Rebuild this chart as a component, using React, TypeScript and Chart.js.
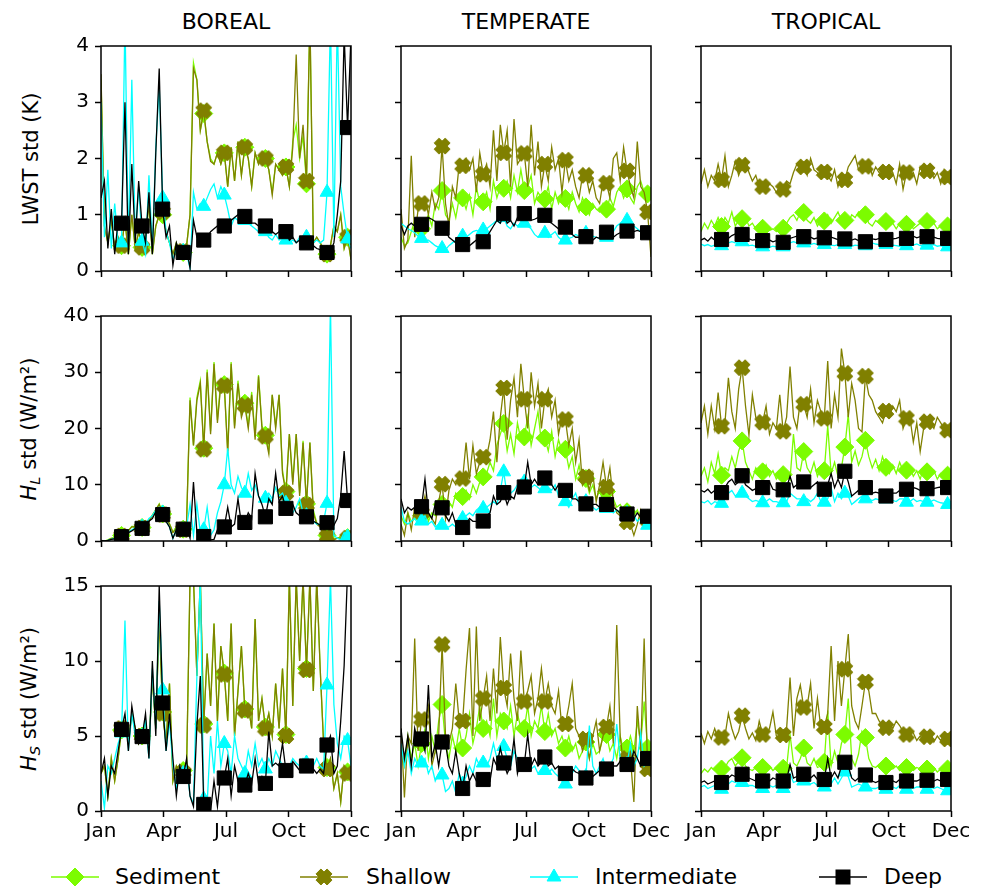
import React, { useEffect, useRef } from "react";
import { Chart, registerables } from "chart.js";

Chart.register(...registerables);

const FONT = "'DejaVu Sans', sans-serif";
const REGIONS = ["BOREAL", "TEMPERATE", "TROPICAL"];
const SERIES = ["Sediment", "Shallow", "Intermediate", "Deep"];
const COLORS = ["#7CFC00", "#808000", "#00FFFF", "#000000"];
const X_TICK_DAYS = [0, 91.25, 182.5, 273.75, 365];
const X_TICK_LABELS = ["Jan", "Apr", "Jul", "Oct", "Dec"];
const Y_MAX = [4, 40, 15];
const Y_STEP = [1, 10, 5];
const DAY_STEP = 5;
const MARK_EVERY = 6;

// ---------- LWST std (K) ----------
const borealLwstSediment = [
  3.4, 0.8, 0.5, 0.9, 0.4, 0.6,
  0.45, 0.9, 0.3, 1.0, 0.4, 0.7,
  0.42, 0.6, 1.2, 0.3, 0.8, 1.0,
  1.0, 0.7, 0.5, 0.3, 0.5, 0.3,
  0.33, 0.45, 1.0, 3.7, 3.4, 2.5,
  2.8, 2.3, 2.0, 1.9, 2.1, 1.9,
  2.1, 1.5, 2.2, 1.6, 2.3, 1.7,
  2.2, 2.0, 1.5, 2.1, 1.9, 2.1,
  2.0, 1.8, 1.4, 1.9, 1.8, 1.7,
  1.85, 1.5, 2.3, 2.6, 2.0, 2.4,
  1.55, 4.5, 0.5, 0.6, 0.5, 0.4,
  0.3, 0.45, 0.8, 0.7, 1.0, 0.4,
  0.6, 0.2,
];
const borealLwstShallow = [
  3.5, 0.8, 0.5, 0.9, 0.4, 0.6,
  0.45, 0.9, 0.3, 1.0, 0.4, 0.7,
  0.42, 0.6, 1.2, 0.3, 0.8, 1.0,
  1.05, 0.7, 0.5, 0.3, 0.5, 0.3,
  0.35, 0.45, 1.0, 3.6, 3.4, 2.5,
  2.85, 2.3, 1.95, 1.9, 2.1, 1.9,
  2.1, 1.5, 2.2, 1.6, 2.3, 1.7,
  2.2, 2.0, 1.5, 2.1, 1.9, 2.1,
  2.0, 1.8, 1.35, 1.9, 1.8, 1.7,
  1.85, 1.5, 2.2, 3.85, 2.0, 2.6,
  1.6, 4.5, 0.5, 0.6, 0.5, 0.4,
  0.3, 0.45, 0.8, 0.7, 1.0, 0.4,
  0.6, 0.2,
];
const borealLwstIntermediate = [
  3.0, 0.6, 1.8, 0.4, 1.2, 0.5,
  0.5, 4.5, 0.4, 3.4, 0.6, 1.5,
  0.53, 0.3, 1.7, 0.4, 2.2, 3.3,
  1.3, 0.7, 0.5, 0.2, 0.4, 0.3,
  0.35, 0.3, 0.05, 1.4, 1.1, 1.2,
  1.15, 1.3, 1.45, 1.55, 1.3, 1.5,
  1.35, 1.1, 0.8, 0.95, 0.9, 0.85,
  0.9, 0.85, 0.8, 0.75, 0.7, 0.65,
  0.7, 0.6, 0.55, 0.65, 0.55, 0.6,
  0.55, 0.5, 0.55, 0.5, 0.6, 0.55,
  0.6, 0.55, 0.5, 0.55, 0.5, 0.55,
  1.4, 4.5, 0.6, 4.5, 1.5, 1.0,
  0.57, 0.4,
];
const borealLwstDeep = [
  1.3, 1.6, 0.4, 1.1, 0.3, 0.9,
  0.85, 3.0, 0.3, 1.9, 0.5, 1.6,
  0.8, 0.5, 1.4, 0.3, 2.1, 3.6,
  1.1, 0.6, 0.8, 0.1, 0.5, 0.3,
  0.33, 0.4, 0.05, 0.9, 0.6, 0.55,
  0.55, 0.6, 0.7, 0.75, 0.8, 0.8,
  0.8, 0.85, 0.9, 0.95, 1.0, 0.9,
  0.97, 0.9, 0.85, 0.85, 0.8, 0.75,
  0.8, 0.75, 0.7, 0.65, 0.7, 0.6,
  0.7, 0.55, 0.6, 0.5, 0.55, 0.5,
  0.5, 0.45, 0.45, 0.4, 0.38, 0.35,
  0.33, 0.35, 0.5, 1.0, 1.6, 4.2,
  2.55, 4.2,
];
const temperateLwstSediment = [
  0.6, 0.45, 0.5, 0.7, 0.9, 0.75,
  0.75, 0.85, 1.0, 0.8, 1.2, 1.1,
  1.43, 1.0, 0.9, 1.2, 0.95, 1.3,
  1.3, 1.1, 1.35, 1.0, 1.5, 1.2,
  1.23, 1.4, 1.1, 1.6, 1.3, 1.5,
  1.47, 1.6, 1.3, 1.7, 1.4, 1.8,
  1.43, 1.5, 1.7, 1.2, 1.4, 1.3,
  1.28, 1.5, 1.1, 1.4, 1.2, 1.35,
  1.29, 1.1, 1.4, 1.2, 1.05, 1.3,
  1.14, 1.0, 1.2, 1.1, 1.05, 1.2,
  1.1, 1.3, 1.15, 1.4, 1.5, 1.3,
  1.46, 1.3, 1.2, 1.5, 1.6, 1.4,
  1.37, 1.3,
];
const temperateLwstShallow = [
  1.1, 0.4, 0.55, 2.05, 0.6, 1.1,
  1.2, 1.3, 1.0, 1.4, 1.1, 1.3,
  2.22, 1.2, 0.8, 1.5, 1.3, 1.9,
  1.87, 2.0, 1.8, 2.0, 1.4, 2.1,
  1.72, 1.9, 1.5, 2.5, 1.6, 2.6,
  2.1, 2.5, 1.5, 2.7, 1.9, 2.0,
  2.09, 1.5, 2.6, 1.7, 2.3, 1.5,
  1.9, 1.6, 2.2, 1.8, 2.0, 1.4,
  1.97, 1.6, 1.8, 1.5, 1.3, 1.7,
  1.7, 1.4, 1.6, 1.3, 1.2, 1.6,
  1.56, 1.3, 2.0, 2.1, 1.6, 2.2,
  1.78, 1.5, 1.3, 2.3, 1.5, 1.4,
  1.05, 0.25,
];
const temperateLwstIntermediate = [
  0.85, 0.8, 0.75, 0.72, 0.68, 0.62,
  0.58, 0.55, 0.55, 0.5, 0.45, 0.42,
  0.4, 0.38, 0.45, 0.5, 0.55, 0.6,
  0.62, 0.6, 0.65, 0.7, 0.72, 0.7,
  0.73, 0.75, 0.8, 0.85, 0.9, 0.85,
  0.95, 0.8, 0.75, 0.85, 0.8, 0.85,
  0.85, 0.8, 0.75, 0.65, 0.6, 0.65,
  0.67, 0.6, 0.65, 0.7, 0.6, 0.55,
  0.55, 0.58, 0.6, 0.65, 0.62, 0.65,
  0.67, 0.6, 0.62, 0.6, 0.58, 0.62,
  0.6, 0.65, 0.7, 0.8, 0.85, 0.9,
  0.9, 0.85, 0.8, 0.75, 0.7, 0.68,
  0.67, 0.65,
];
const temperateLwstDeep = [
  0.8, 0.65, 0.8, 0.85, 0.8, 0.82,
  0.83, 0.9, 0.95, 0.92, 0.88, 0.8,
  0.76, 0.72, 0.6, 0.55, 0.5, 0.48,
  0.47, 0.5, 0.45, 0.5, 0.55, 0.5,
  0.52, 0.6, 0.7, 0.8, 0.9, 0.85,
  1.02, 0.85, 0.9, 0.8, 0.95, 1.0,
  1.02, 0.95, 0.9, 0.92, 0.95, 0.9,
  0.99, 0.88, 0.85, 0.8, 0.75, 0.8,
  0.78, 0.7, 0.65, 0.6, 0.6, 0.58,
  0.61, 0.6, 0.55, 0.6, 0.58, 0.65,
  0.69, 0.62, 0.6, 0.65, 0.68, 0.72,
  0.71, 0.7, 0.7, 0.72, 0.7, 0.7,
  0.68, 0.68,
];
const tropicalLwstSediment = [
  0.7, 0.85, 0.75, 0.9, 0.8, 0.95,
  0.79, 0.95, 0.85, 1.05, 0.8, 0.9,
  0.93, 0.95, 0.8, 0.85, 0.75, 0.7,
  0.76, 0.8, 0.72, 0.75, 0.7, 0.8,
  0.76, 0.85, 0.95, 1.0, 0.9, 1.05,
  1.04, 0.9, 0.85, 0.95, 0.8, 0.9,
  0.89, 1.0, 0.85, 0.95, 1.05, 0.9,
  0.9, 0.85, 1.0, 0.95, 1.05, 0.95,
  1.0, 0.85, 0.8, 0.9, 0.85, 0.8,
  0.88, 0.8, 0.85, 0.75, 0.85, 0.8,
  0.83, 0.85, 0.75, 0.8, 0.85, 0.8,
  0.88, 0.8, 0.85, 0.75, 0.8, 0.85,
  0.8, 0.82,
];
const tropicalLwstShallow = [
  1.55, 1.8, 1.5, 1.7, 1.6, 1.9,
  1.62, 2.05, 1.5, 1.7, 1.95, 1.7,
  1.88, 2.0, 1.75, 1.6, 1.7, 1.5,
  1.5, 1.45, 1.55, 1.5, 1.4, 1.5,
  1.45, 1.6, 1.55, 1.75, 1.9, 1.8,
  1.85, 1.7, 2.0, 1.8, 1.75, 1.65,
  1.76, 1.7, 1.6, 1.8, 1.5, 1.7,
  1.62, 1.85, 1.95, 2.05, 1.8, 1.9,
  1.86, 1.95, 1.7, 1.85, 1.75, 1.8,
  1.76, 1.85, 1.75, 1.55, 1.9, 1.45,
  1.75, 1.7, 1.75, 1.55, 1.85, 1.7,
  1.78, 1.8, 1.65, 1.75, 1.55, 1.8,
  1.67, 1.7,
];
const tropicalLwstIntermediate = [
  0.48, 0.45, 0.47, 0.44, 0.46, 0.45,
  0.45, 0.47, 0.5, 0.52, 0.5, 0.5,
  0.52, 0.48, 0.45, 0.46, 0.44, 0.45,
  0.43, 0.44, 0.42, 0.44, 0.43, 0.45,
  0.43, 0.46, 0.5, 0.52, 0.5, 0.5,
  0.5, 0.48, 0.47, 0.49, 0.47, 0.46,
  0.47, 0.48, 0.46, 0.45, 0.47, 0.46,
  0.47, 0.45, 0.44, 0.46, 0.45, 0.44,
  0.45, 0.46, 0.5, 0.48, 0.47, 0.46,
  0.47, 0.45, 0.46, 0.45, 0.44, 0.46,
  0.45, 0.47, 0.46, 0.48, 0.45, 0.46,
  0.46, 0.45, 0.47, 0.44, 0.45, 0.43,
  0.43, 0.44,
];
const tropicalLwstDeep = [
  0.55, 0.58, 0.53, 0.6, 0.55, 0.57,
  0.56, 0.6, 0.58, 0.63, 0.66, 0.62,
  0.65, 0.6, 0.57, 0.55, 0.56, 0.54,
  0.54, 0.53, 0.55, 0.52, 0.54, 0.5,
  0.51, 0.55, 0.58, 0.6, 0.62, 0.6,
  0.61, 0.58, 0.6, 0.57, 0.59, 0.6,
  0.59, 0.57, 0.6, 0.58, 0.56, 0.58,
  0.57, 0.58, 0.55, 0.57, 0.54, 0.55,
  0.52, 0.55, 0.57, 0.56, 0.58, 0.55,
  0.56, 0.55, 0.57, 0.58, 0.6, 0.57,
  0.58, 0.6, 0.62, 0.59, 0.61, 0.6,
  0.61, 0.59, 0.6, 0.58, 0.57, 0.59,
  0.58, 0.57,
];

// ---------- H_L std (W/m2) ----------
const borealHlSediment = [
  0.0, 0.0, 0.2, 0.5, 0.6, 0.9,
  1.0, 1.4, 1.9, 2.6, 2.6, 2.9,
  2.4, 3.1, 3.6, 4.6, 5.6, 6.6,
  4.8, 4.1, 3.1, 1.6, 2.3, 3.1,
  2.1, 3.6, 25.5, 17.0, 25.5, 28.5,
  16.5, 30.5, 19.5, 31.8, 21.5, 28.5,
  27.8, 16.0, 31.8, 20.5, 28.5, 22.5,
  24.5, 20.5, 26.5, 18.5, 29.5, 20.5,
  18.8, 16.0, 26.0, 20.5, 26.0, 12.5,
  8.8, 19.0, 10.5, 19.0, 8.5, 17.8,
  6.6, 17.5, 5.5, 3.2, 2.7, 1.2,
  1.0, 0.4, 0.3, 0.6, 0.6, 0.6,
  0.6, 1.6,
];
const borealHlShallow = [
  0.0, 0.0, 0.1, 0.4, 0.5, 0.8,
  0.9, 1.3, 1.8, 2.5, 2.5, 2.8,
  2.3, 3.0, 3.5, 4.5, 5.5, 6.5,
  4.7, 4.0, 3.0, 1.5, 2.2, 3.0,
  2.0, 3.5, 25.0, 17.0, 25.0, 28.0,
  16.3, 30.0, 19.0, 31.5, 21.0, 28.0,
  27.6, 15.5, 31.5, 20.0, 28.0, 22.0,
  24.1, 20.0, 26.0, 18.0, 29.3, 20.0,
  18.6, 15.5, 26.0, 20.0, 26.0, 12.0,
  8.5, 19.0, 10.0, 19.0, 8.0, 17.5,
  6.4, 17.5, 5.0, 3.0, 2.5, 1.0,
  0.8, 0.3, 0.2, 0.5, 0.5, 0.5,
  0.5, 1.5,
];
const borealHlIntermediate = [
  0.0, 0.0, 0.1, 0.3, 0.5, 0.6,
  0.7, 1.0, 1.5, 2.0, 2.3, 2.6,
  2.5, 3.0, 4.0, 4.5, 5.5, 6.0,
  5.0, 3.5, 2.5, 0.5, 2.0, 2.5,
  2.0, 2.5, 6.5, 1.0, 6.5, 1.5,
  2.0, 6.0, 1.0, 2.0, 5.0, 7.0,
  10.0, 16.5, 10.0, 8.5, 11.5, 9.5,
  8.5, 12.0, 9.0, 10.0, 8.0, 7.0,
  7.6, 8.5, 7.5, 9.5, 8.0, 8.5,
  6.7, 6.0, 5.0, 6.0, 7.5, 5.0,
  4.5, 4.0, 3.5, 3.0, 3.0, 3.5,
  6.7, 42.0, 1.0, 0.5, 0.2, 1.5,
  0.7, 0.3,
];
const borealHlDeep = [
  0.1, 0.0, 0.1, 0.3, 0.4, 0.6,
  0.77, 1.2, 1.5, 1.8, 2.2, 2.5,
  2.25, 3.0, 3.5, 4.0, 5.2, 4.5,
  4.7, 3.5, 2.5, 0.5, 2.0, 2.3,
  2.1, 2.5, 0.5, 10.5, 1.5, 1.2,
  0.8, 0.5, 0.2, 0.3, 2.0, 3.0,
  2.5, 6.0, 2.5, 3.0, 7.5, 3.0,
  3.3, 5.0, 4.0, 12.0, 8.0, 6.5,
  4.3, 7.5, 6.5, 12.0, 7.0, 8.0,
  5.8, 5.5, 6.5, 5.0, 4.5, 5.5,
  4.3, 4.0, 3.5, 3.2, 2.8, 3.0,
  3.25, 3.0, 2.8, 4.0, 8.0, 16.0,
  7.2, 7.0,
];
const temperateHlSediment = [
  4.5, 3.0, 5.0, 3.5, 4.0, 5.5,
  4.5, 6.0, 3.5, 5.0, 4.5, 6.0,
  6.5, 5.0, 7.0, 6.0, 8.5, 7.5,
  7.9, 9.0, 7.5, 10.0, 8.5, 10.5,
  11.4, 12.0, 14.0, 12.5, 17.0, 19.0,
  20.9, 16.0, 19.0, 15.5, 21.0, 18.0,
  18.5, 22.0, 17.0, 20.0, 23.0, 17.5,
  18.3, 16.0, 19.5, 15.0, 18.0, 16.0,
  16.3, 13.0, 15.0, 11.0, 13.5, 10.0,
  11.1, 8.5, 10.0, 7.5, 9.0, 7.0,
  8.8, 6.5, 7.5, 6.0, 6.5, 5.5,
  5.2, 6.0, 4.5, 5.5, 4.0, 5.0,
  4.0, 3.5,
];
const temperateHlShallow = [
  3.0, 1.0, 5.0, 2.0, 6.0, 4.0,
  5.0, 8.0, 5.0, 4.0, 3.0, 7.0,
  10.1, 4.0, 9.0, 11.0, 10.0, 12.0,
  11.1, 17.5, 11.0, 17.0, 12.0, 14.0,
  14.9, 15.0, 18.0, 23.0, 14.0, 22.0,
  27.2, 18.0, 25.0, 29.0, 22.0, 31.5,
  25.2, 20.0, 30.0, 24.0, 28.0, 20.0,
  25.2, 27.0, 22.0, 25.0, 19.0, 22.0,
  21.6, 17.0, 20.0, 14.0, 18.0, 10.0,
  11.4, 9.0, 12.0, 7.0, 10.0, 14.0,
  9.6, 13.0, 7.0, 5.0, 4.5, 3.5,
  3.4, 3.0, 1.0, 3.0, 5.5, 3.5,
  3.7, 3.0,
];
const temperateHlIntermediate = [
  6.0, 3.5, 3.0, 3.5, 4.0, 3.0,
  3.55, 4.5, 3.0, 3.5, 2.5, 3.0,
  2.8, 2.5, 2.5, 3.0, 2.5, 3.5,
  4.0, 4.5, 5.0, 4.5, 5.5, 6.0,
  5.8, 6.0, 6.5, 7.0, 6.5, 9.0,
  12.3, 8.0, 8.5, 9.0, 10.0, 11.0,
  10.5, 10.5, 9.5, 10.0, 9.5, 9.0,
  9.3, 9.5, 9.0, 10.0, 8.0, 8.0,
  7.0, 6.0, 7.5, 8.5, 6.5, 7.0,
  7.0, 6.5, 6.0, 5.5, 6.0, 5.5,
  5.8, 5.5, 5.0, 5.5, 5.0, 4.5,
  4.9, 5.0, 4.5, 3.5, 4.0, 3.0,
  2.8, 2.5,
];
const temperateHlDeep = [
  7.5, 5.0, 6.0, 5.5, 6.0, 5.0,
  6.1, 11.0, 5.0, 4.0, 6.5, 5.0,
  5.9, 4.5, 3.5, 5.0, 3.0, 2.5,
  2.4, 3.0, 4.0, 3.5, 3.5, 4.0,
  3.55, 4.5, 5.0, 8.0, 6.5, 7.0,
  8.6, 6.5, 8.0, 7.5, 9.5, 10.5,
  9.6, 14.0, 10.0, 11.0, 10.0, 10.5,
  11.2, 10.5, 10.0, 9.0, 10.0, 9.5,
  9.0, 8.5, 7.5, 7.5, 7.0, 7.0,
  6.6, 6.0, 6.5, 6.5, 6.0, 6.5,
  6.5, 6.3, 6.0, 5.5, 5.0, 4.8,
  4.8, 5.0, 4.0, 5.0, 4.2, 4.5,
  4.4, 4.5,
];
const tropicalHlSediment = [
  11.5, 13.0, 10.5, 14.0, 12.0, 15.5,
  11.7, 13.0, 12.5, 15.0, 13.0, 16.0,
  17.8, 14.0, 12.5, 11.0, 13.0, 12.0,
  12.3, 13.5, 11.5, 12.5, 11.0, 12.0,
  11.8, 12.5, 11.0, 19.0, 13.0, 12.5,
  15.9, 13.0, 12.0, 14.0, 11.5, 13.0,
  12.5, 20.5, 12.0, 14.0, 11.5, 13.0,
  16.7, 22.5, 14.0, 16.0, 13.5, 15.0,
  17.9, 15.0, 13.0, 14.5, 12.5, 15.0,
  13.1, 12.0, 13.5, 12.0, 14.0, 12.5,
  12.6, 13.0, 11.5, 12.5, 11.0, 13.0,
  12.3, 11.5, 12.5, 11.0, 12.0, 11.5,
  11.7, 11.5,
];
const tropicalHlShallow = [
  21.0, 24.0, 19.0, 24.0, 20.0, 26.4,
  20.4, 21.0, 29.0, 23.0, 20.0, 27.0,
  30.8, 24.0, 18.8, 26.0, 22.0, 20.0,
  21.1, 24.0, 19.0, 21.0, 20.0, 26.0,
  19.5, 22.0, 31.0, 22.0, 20.0, 25.0,
  24.3, 22.0, 27.0, 21.0, 25.0, 23.0,
  21.8, 32.0, 20.0, 26.0, 22.0, 34.2,
  29.8, 22.0, 28.0, 25.0, 20.0, 19.4,
  29.3, 26.0, 25.0, 23.0, 22.0, 21.0,
  23.1, 22.0, 24.0, 23.0, 25.0, 20.0,
  21.8, 22.0, 17.6, 21.0, 15.9, 20.0,
  21.2, 21.0, 20.0, 22.0, 21.0, 20.0,
  19.7, 19.0,
];
const tropicalHlIntermediate = [
  7.0, 6.8, 7.2, 6.5, 7.0, 6.8,
  6.7, 7.5, 8.5, 9.0, 8.0, 8.5,
  8.5, 8.0, 7.5, 7.0, 7.2, 7.0,
  6.8, 7.0, 7.5, 7.0, 7.0, 6.8,
  6.8, 7.0, 8.5, 8.0, 7.5, 7.5,
  7.0, 7.5, 7.0, 7.5, 8.5, 7.0,
  6.9, 7.5, 9.5, 7.0, 8.5, 7.5,
  8.5, 8.0, 6.5, 7.0, 7.5, 8.0,
  7.5, 7.5, 7.2, 7.5, 7.3, 7.0,
  7.5, 7.0, 7.2, 7.0, 7.5, 7.5,
  6.9, 7.0, 7.5, 7.0, 7.2, 7.0,
  6.9, 7.0, 7.3, 7.0, 6.8, 6.7,
  6.5, 6.5,
];
const tropicalHlDeep = [
  9.0, 8.7, 9.2, 8.5, 9.0, 8.8,
  8.6, 9.5, 10.5, 11.0, 10.0, 10.5,
  11.6, 10.0, 9.5, 9.0, 9.3, 9.5,
  9.5, 10.0, 10.5, 9.2, 9.0, 8.8,
  9.1, 9.5, 11.5, 9.5, 10.0, 10.0,
  10.5, 10.0, 9.5, 10.0, 10.5, 9.0,
  9.2, 10.0, 12.0, 9.5, 11.0, 9.5,
  12.4, 10.5, 8.0, 8.5, 9.0, 9.5,
  9.5, 9.0, 8.5, 8.7, 8.5, 8.0,
  8.0, 8.3, 8.5, 8.5, 9.0, 9.0,
  9.2, 9.0, 9.5, 9.3, 9.0, 9.5,
  9.3, 9.5, 9.3, 9.5, 9.6, 9.5,
  9.5, 9.5,
];

// ---------- H_S std (W/m2) ----------
const borealHsSediment = [
  2.5, 3.0, 1.0, 3.5, 2.0, 3.5,
  5.4, 6.0, 4.5, 6.5, 5.5, 4.5,
  5.0, 6.0, 4.0, 9.0, 5.5, 13.0,
  6.6, 4.5, 8.5, 2.0, 3.0, 2.5,
  2.7, 3.0, 15.5, 15.5, 9.0, 15.5,
  5.8, 10.5, 7.0, 12.5, 6.0, 11.0,
  9.2, 6.0, 12.5, 5.0, 8.0, 11.0,
  6.8, 7.0, 5.5, 12.8, 6.0, 7.5,
  5.6, 6.5, 5.0, 8.5, 5.5, 9.5,
  5.1, 15.5, 7.0, 15.5, 10.0, 15.5,
  9.5, 15.5, 8.0, 15.5, 9.5, 4.5,
  2.9, 3.5, 1.5, 2.5, 0.6, 3.0,
  2.6, 2.0,
];
const borealHsShallow = [
  2.5, 3.0, 1.0, 3.5, 2.0, 3.5,
  5.5, 6.0, 4.5, 6.5, 5.5, 4.5,
  5.0, 6.0, 4.0, 9.0, 5.5, 13.0,
  6.5, 4.5, 8.5, 2.0, 3.0, 2.5,
  2.6, 3.0, 15.5, 15.5, 9.0, 15.5,
  5.7, 10.5, 7.0, 12.5, 6.0, 11.0,
  9.1, 6.0, 12.5, 5.0, 8.0, 11.0,
  6.7, 7.0, 5.5, 12.8, 6.0, 7.5,
  5.5, 6.5, 5.0, 8.5, 5.5, 9.5,
  5.0, 15.5, 7.0, 15.5, 10.0, 15.5,
  9.4, 15.5, 8.0, 15.5, 9.5, 4.5,
  2.8, 3.5, 1.5, 2.5, 0.6, 3.0,
  2.5, 2.0,
];
const borealHsIntermediate = [
  2.0, 0.2, 3.0, 2.5, 3.5, 4.5,
  5.2, 12.7, 4.0, 6.5, 5.0, 5.0,
  5.0, 6.0, 3.5, 9.5, 5.5, 14.0,
  8.07, 4.0, 6.0, 3.0, 1.5, 3.0,
  2.5, 3.0, 1.0, 0.5, 9.0, 15.5,
  0.8, 0.5, 5.0, 2.5, 6.0, 3.0,
  4.5, 4.0, 2.5, 5.0, 3.5, 3.0,
  2.5, 4.0, 3.0, 4.5, 3.0, 3.5,
  2.8, 3.5, 3.0, 4.0, 3.5, 3.0,
  2.6, 3.0, 3.5, 3.2, 3.0, 3.5,
  3.2, 3.3, 3.0, 3.5, 3.0, 2.8,
  8.4, 15.5, 7.1, 4.5, 3.5, 5.0,
  4.7, 3.0,
];
const borealHsDeep = [
  2.5, 3.5, 1.0, 3.0, 2.5, 4.0,
  5.44, 6.5, 4.0, 7.0, 5.5, 4.5,
  4.96, 6.5, 3.5, 10.0, 5.0, 15.0,
  7.2, 4.0, 6.5, 3.5, 1.0, 3.0,
  2.3, 3.5, 1.0, 0.3, 5.7, 9.0,
  0.44, 0.5, 0.0, 2.0, 0.3, 2.5,
  2.2, 3.5, 1.0, 3.0, 2.0, 1.5,
  1.73, 2.5, 1.8, 3.5, 1.8, 2.3,
  1.84, 5.3, 3.0, 3.2, 3.0, 4.5,
  2.7, 2.8, 3.3, 3.0, 2.7, 2.8,
  3.0, 3.0, 2.8, 2.5, 2.8, 2.5,
  4.4, 5.0, 2.5, 3.0, 6.0, 9.7,
  16.0, 17.0,
];
const temperateHsSediment = [
  4.0, 3.0, 5.0, 3.5, 4.5, 3.0,
  4.5, 5.5, 3.5, 5.0, 4.0, 6.0,
  7.1, 4.5, 3.5, 5.0, 4.0, 5.5,
  4.2, 5.0, 6.5, 4.5, 5.5, 7.0,
  5.5, 6.0, 5.0, 7.5, 5.0, 6.5,
  6.0, 5.5, 7.0, 5.0, 6.5, 5.5,
  5.5, 7.0, 5.0, 6.0, 5.5, 7.0,
  5.3, 6.5, 5.0, 5.5, 4.5, 5.0,
  4.2, 5.0, 4.0, 4.5, 3.5, 4.0,
  4.6, 3.5, 4.5, 3.8, 4.0, 5.0,
  5.1, 4.0, 4.5, 3.5, 5.0, 4.0,
  4.2, 5.0, 4.0, 6.0, 4.5, 7.3,
  4.2, 4.0,
];
const temperateHsShallow = [
  5.5, 0.9, 5.0, 4.5, 11.5, 4.0,
  6.1, 6.0, 7.0, 3.0, 4.0, 5.0,
  11.1, 5.0, 4.5, 5.5, 8.5, 6.0,
  6.0, 9.4, 12.2, 5.0, 12.3, 6.0,
  7.5, 9.0, 6.0, 9.5, 6.5, 11.6,
  8.2, 7.0, 10.5, 7.5, 6.0, 10.7,
  7.3, 8.0, 9.0, 6.5, 7.5, 9.5,
  7.3, 8.5, 7.0, 6.5, 8.0, 5.5,
  5.8, 7.0, 8.5, 5.5, 5.0, 4.0,
  4.8, 3.5, 5.0, 6.0, 4.0, 5.0,
  5.6, 7.0, 4.5, 12.4, 5.0, 3.0,
  3.5, 3.5, 0.6, 7.0, 4.0, 11.5,
  2.8, 2.5,
];
const temperateHsIntermediate = [
  4.5, 3.0, 4.0, 2.5, 3.5, 3.0,
  3.2, 3.5, 2.5, 3.0, 2.0, 2.5,
  2.4, 1.3, 1.5, 2.0, 1.2, 2.5,
  1.8, 2.3, 3.0, 2.5, 3.5, 3.0,
  3.2, 3.0, 3.5, 4.5, 3.5, 4.0,
  4.3, 3.5, 3.0, 4.0, 3.5, 3.0,
  3.0, 3.5, 2.8, 3.0, 2.5, 2.8,
  2.7, 2.5, 2.8, 2.5, 2.3, 2.0,
  1.8, 2.0, 2.5, 3.0, 2.7, 2.5,
  2.3, 5.7, 3.0, 2.5, 3.0, 3.5,
  2.7, 3.0, 3.5, 5.8, 3.5, 3.0,
  3.1, 4.5, 3.0, 3.5, 5.2, 3.0,
  3.3, 3.0,
];
const temperateHsDeep = [
  5.5, 3.5, 5.0, 3.0, 5.5, 4.5,
  4.8, 4.0, 8.4, 3.5, 4.5, 3.0,
  4.6, 4.5, 3.0, 2.5, 4.0, 2.5,
  1.5, 3.0, 2.0, 2.5, 2.0, 2.2,
  2.1, 2.3, 2.0, 3.5, 3.0, 4.2,
  3.2, 2.5, 3.0, 4.8, 2.5, 3.5,
  3.1, 5.1, 3.0, 3.5, 3.0, 3.3,
  3.6, 3.0, 3.2, 2.8, 3.0, 2.5,
  2.5, 2.5, 2.8, 2.6, 2.5, 2.2,
  2.2, 2.0, 2.3, 2.5, 2.7, 2.8,
  2.8, 2.9, 3.0, 3.0, 3.3, 3.0,
  3.1, 3.2, 4.0, 3.5, 3.0, 3.8,
  3.5, 3.5,
];
const tropicalHsSediment = [
  2.5, 2.8, 2.6, 2.9, 2.7, 2.8,
  2.8, 2.9, 3.3, 3.5, 3.0, 3.3,
  3.55, 3.0, 2.8, 2.7, 2.9, 2.8,
  2.9, 2.8, 3.0, 2.7, 2.9, 2.8,
  2.85, 2.9, 5.1, 3.2, 3.0, 3.5,
  4.2, 3.2, 3.0, 3.5, 2.9, 3.0,
  3.25, 6.7, 3.0, 4.0, 3.2, 4.5,
  5.1, 7.5, 3.5, 3.0, 3.8, 5.3,
  4.9, 3.5, 3.0, 2.9, 3.1, 2.8,
  3.0, 2.9, 2.8, 3.0, 2.7, 2.9,
  2.9, 2.8, 2.7, 2.9, 2.8, 2.7,
  2.8, 2.7, 2.9, 2.6, 2.8, 2.7,
  2.8, 2.7,
];
const tropicalHsShallow = [
  5.2, 4.5, 5.3, 4.8, 5.5, 4.8,
  4.9, 5.0, 6.5, 5.5, 4.8, 5.3,
  6.35, 5.5, 4.8, 5.2, 4.7, 6.0,
  5.1, 5.0, 5.5, 6.6, 5.0, 4.8,
  5.07, 5.5, 8.9, 5.0, 7.5, 8.4,
  6.9, 7.0, 8.5, 5.5, 7.5, 5.5,
  5.6, 6.5, 11.0, 6.0, 10.0, 7.0,
  9.45, 11.8, 7.0, 6.0, 5.5, 7.0,
  8.6, 8.0, 6.5, 6.5, 6.0, 5.7,
  5.55, 5.8, 5.5, 6.0, 5.7, 5.3,
  5.1, 5.5, 5.2, 4.7, 5.0, 4.6,
  4.95, 5.2, 4.6, 5.0, 4.7, 5.1,
  4.8, 4.6,
];
const tropicalHsIntermediate = [
  1.6, 1.7, 1.5, 1.6, 1.7, 1.6,
  1.45, 1.6, 1.8, 2.0, 1.9, 2.0,
  1.9, 1.8, 1.7, 1.7, 1.6, 1.6,
  1.5, 1.6, 1.7, 1.6, 1.7, 1.6,
  1.5, 1.7, 2.5, 1.9, 2.0, 2.0,
  2.0, 1.9, 1.8, 1.9, 1.7, 1.6,
  1.6, 2.5, 1.8, 2.2, 1.8, 2.2,
  2.6, 2.3, 1.6, 1.7, 1.8, 1.7,
  1.6, 1.6, 1.5, 1.5, 1.6, 1.5,
  1.45, 1.6, 1.6, 1.5, 1.7, 1.6,
  1.45, 1.6, 1.5, 1.6, 1.6, 1.5,
  1.45, 1.6, 1.5, 1.6, 1.5, 1.4,
  1.35, 1.4,
];
const tropicalHsDeep = [
  1.9, 2.0, 1.8, 1.9, 2.0, 1.9,
  1.9, 2.0, 2.2, 2.4, 2.3, 2.5,
  2.45, 2.3, 2.2, 2.1, 2.0, 2.1,
  2.0, 2.1, 2.0, 2.2, 2.1, 2.0,
  2.0, 2.1, 3.1, 2.2, 2.3, 2.4,
  2.45, 2.3, 2.2, 2.4, 2.1, 2.0,
  2.1, 3.5, 2.2, 2.6, 2.2, 3.0,
  3.25, 3.0, 2.2, 2.0, 2.2, 2.3,
  2.4, 2.2, 2.0, 1.9, 2.0, 1.9,
  1.9, 2.0, 2.0, 1.9, 2.1, 2.0,
  2.0, 2.1, 2.0, 2.0, 2.1, 2.0,
  2.05, 2.1, 2.0, 2.1, 2.0, 2.1,
  2.1, 2.1,
];

const PANELS: number[][][][] = [
  [
    [borealLwstSediment, borealLwstShallow, borealLwstIntermediate, borealLwstDeep],
    [temperateLwstSediment, temperateLwstShallow, temperateLwstIntermediate, temperateLwstDeep],
    [tropicalLwstSediment, tropicalLwstShallow, tropicalLwstIntermediate, tropicalLwstDeep],
  ],
  [
    [borealHlSediment, borealHlShallow, borealHlIntermediate, borealHlDeep],
    [temperateHlSediment, temperateHlShallow, temperateHlIntermediate, temperateHlDeep],
    [tropicalHlSediment, tropicalHlShallow, tropicalHlIntermediate, tropicalHlDeep],
  ],
  [
    [borealHsSediment, borealHsShallow, borealHsIntermediate, borealHsDeep],
    [temperateHsSediment, temperateHsShallow, temperateHsIntermediate, temperateHsDeep],
    [tropicalHsSediment, tropicalHsShallow, tropicalHsIntermediate, tropicalHsDeep],
  ],
];

// ---------- layout ----------
const PLOT_LEFT = [101, 401, 701];
const PLOT_TOP = [46, 316, 586];
const PLOT_W = 250;
const PLOT_H = 225;
const PAD_L = 70;
const PAD_T = 14;
const PAD_R = 25;
const PAD_B = 40;
const TICK_FONT = 20;
const YLABEL_FONT = 21;
const TITLE_FONT = 22;
const LEGEND_FONT = 22;
const X_HALF = 8;
const MARKER_RADIUS = [9, 8, 8, 10];
const POINT_STYLES = ["rectRot", "cross", "triangle", "rect"];

// Filled "X" marker: a fat plus sign rotated by 45 degrees
function xMarkerPoints(half: number, cx: number, cy: number): [number, number][] {
  const a = 1.15; // arm half-width
  const b = 2.6; // arm half-length
  const base = [
    [-a, -b], [a, -b], [a, -a], [b, -a], [b, a], [a, a],
    [a, b], [-a, b], [-a, a], [-b, a], [-b, -a], [-a, -a],
  ];
  const u = half / ((a + b) / Math.SQRT2);
  return base.map(([x, y]) => [cx + ((x - y) / Math.SQRT2) * u, cy + ((x + y) / Math.SQRT2) * u]);
}

function makeXCanvas(color: string): HTMLCanvasElement {
  const size = Math.ceil(X_HALF * 2 + 2);
  const c = document.createElement("canvas");
  c.width = size;
  c.height = size;
  const ctx = c.getContext("2d")!;
  const pts = xMarkerPoints(X_HALF, size / 2, size / 2);
  ctx.beginPath();
  pts.forEach(([x, y], i) => (i === 0 ? ctx.moveTo(x, y) : ctx.lineTo(x, y)));
  ctx.closePath();
  ctx.fillStyle = color;
  ctx.fill();
  ctx.strokeStyle = color;
  ctx.lineWidth = 1;
  ctx.stroke();
  return c;
}

const spinePlugin = {
  id: "spines",
  afterDraw(chart: any) {
    const { ctx, chartArea } = chart;
    ctx.save();
    ctx.strokeStyle = "#000";
    ctx.lineWidth = 1.5;
    ctx.strokeRect(chartArea.left, chartArea.top, chartArea.right - chartArea.left, chartArea.bottom - chartArea.top);
    ctx.restore();
  },
};

function buildConfig(r: number, c: number, xCanvas: HTMLCanvasElement): any {
  const series = PANELS[r][c];
  const datasets = series.map((vals, s) => ({
    label: SERIES[s],
    data: vals.map((v, i) => ({ x: i * DAY_STEP, y: v })),
    borderColor: COLORS[s],
    backgroundColor: COLORS[s],
    borderWidth: 1.3,
    pointStyle: s === 1 ? xCanvas : POINT_STYLES[s],
    pointRadius: (ctx: any) => (ctx.dataIndex > 0 && ctx.dataIndex % MARK_EVERY === 0 ? MARKER_RADIUS[s] : 0),
    pointHoverRadius: 0,
    pointBorderWidth: 1,
    pointBorderColor: COLORS[s],
    pointBackgroundColor: COLORS[s],
    order: 3 - s,
    tension: 0,
  }));
  const grid = {
    display: true,
    drawOnChartArea: false,
    drawTicks: true,
    tickLength: 6,
    tickWidth: 1.5,
    tickColor: "#000",
    color: "#000",
  };
  const font = { family: FONT, size: TICK_FONT };
  return {
    type: "line",
    data: { datasets },
    options: {
      animation: false,
      responsive: false,
      devicePixelRatio: 1,
      events: [],
      layout: { padding: { left: PAD_L - 60, top: PAD_T, right: PAD_R, bottom: 0 } },
      plugins: { legend: { display: false }, tooltip: { enabled: false } },
      scales: {
        x: {
          type: "linear",
          min: 0,
          max: 365,
          afterBuildTicks: (scale: any) => {
            scale.ticks = X_TICK_DAYS.map((v) => ({ value: v }));
          },
          afterFit: (scale: any) => {
            scale.height = PAD_B;
            scale.paddingLeft = 0;
            scale.paddingRight = 0;
          },
          grid,
          border: { display: false },
          ticks: {
            autoSkip: false,
            maxRotation: 0,
            minRotation: 0,
            padding: 3,
            color: "#000",
            font,
            callback: (_v: any, i: number) => (r === 2 ? X_TICK_LABELS[i] : ""),
          },
        },
        y: {
          type: "linear",
          min: 0,
          max: Y_MAX[r],
          afterFit: (scale: any) => {
            scale.width = 60;
            scale.paddingTop = 0;
            scale.paddingBottom = 0;
          },
          grid,
          border: { display: false },
          ticks: {
            stepSize: Y_STEP[r],
            padding: 6,
            color: "#000",
            font,
            callback: (v: any) => (c === 0 ? String(v) : ""),
          },
        },
      },
    },
    plugins: [spinePlugin],
  };
}

function Panel({ r, c }: { r: number; c: number }) {
  const ref = useRef<HTMLCanvasElement>(null);
  const w = PLOT_W + PAD_L + PAD_R;
  const h = PLOT_H + PAD_T + PAD_B;
  useEffect(() => {
    const xCanvas = makeXCanvas(COLORS[1]);
    const chart = new Chart(ref.current!, buildConfig(r, c, xCanvas));
    return () => chart.destroy();
  }, [r, c]);
  return (
    <canvas
      ref={ref}
      width={w}
      height={h}
      style={{ position: "absolute", left: PLOT_LEFT[c] - PAD_L, top: PLOT_TOP[r] - PAD_T, width: w, height: h }}
    />
  );
}

function LegendMarker({ s }: { s: number }) {
  const col = COLORS[s];
  const cx = 24;
  const cy = 10;
  let marker: any = null;
  if (s === 0) {
    marker = <polygon points={`${cx - 9},${cy} ${cx},${cy - 9} ${cx + 9},${cy} ${cx},${cy + 9}`} fill={col} stroke={col} />;
  } else if (s === 1) {
    const pts = xMarkerPoints(X_HALF, cx, cy).map((p) => p.join(",")).join(" ");
    marker = <polygon points={pts} fill={col} stroke={col} />;
  } else if (s === 2) {
    const rr = 8;
    marker = (
      <polygon
        points={`${cx},${cy - rr} ${cx + rr * 0.866},${cy + rr / 2} ${cx - rr * 0.866},${cy + rr / 2}`}
        fill={col}
        stroke={col}
      />
    );
  } else {
    marker = <rect x={cx - 7} y={cy - 7} width={14} height={14} fill={col} stroke={col} />;
  }
  return (
    <svg width={48} height={20} style={{ position: "absolute", left: 0, top: 0, overflow: "visible" }}>
      <line x1={0} y1={cy} x2={48} y2={cy} stroke={col} strokeWidth={1.3} />
      {marker}
    </svg>
  );
}

const LEGEND_LINE_X = [51, 300, 530, 819];
const LEGEND_TEXT_X = [115, 366, 595, 884];
const LEGEND_Y = 877;
const TITLE_Y = 22;
const YLABEL_X = 31;

export default function App() {
  const textStyle: any = { position: "absolute", fontFamily: FONT, color: "#000", whiteSpace: "nowrap", lineHeight: 1 };
  const subStyle: any = { fontStyle: "italic", fontSize: "0.7em", verticalAlign: "-0.25em" };
  const yLabels = [
    <span>LWST std (K)</span>,
    <span>
      <i>H</i>
      <sub style={subStyle}>L</sub> std (W/m²)
    </span>,
    <span>
      <i>H</i>
      <sub style={subStyle}>S</sub> std (W/m²)
    </span>,
  ];
  return (
    <div style={{ position: "absolute", left: 0, top: 0, width: 987, height: 891, background: "#fff", overflow: "hidden" }}>
      {REGIONS.map((name, c) => (
        <div
          key={name}
          style={{ ...textStyle, fontSize: TITLE_FONT, left: PLOT_LEFT[c] + PLOT_W / 2, top: TITLE_Y, transform: "translate(-50%, -50%)" }}
        >
          {name}
        </div>
      ))}
      {yLabels.map((lab, r) => (
        <div
          key={r}
          style={{
            ...textStyle,
            fontSize: YLABEL_FONT,
            left: YLABEL_X,
            top: PLOT_TOP[r] + PLOT_H / 2,
            transform: "translate(-50%, -50%) rotate(-90deg)",
          }}
        >
          {lab}
        </div>
      ))}
      {[0, 1, 2].map((r) => [0, 1, 2].map((c) => <Panel key={`${r}-${c}`} r={r} c={c} />))}
      {SERIES.map((name, s) => (
        <React.Fragment key={name}>
          <div style={{ position: "absolute", left: LEGEND_LINE_X[s], top: LEGEND_Y - 10, width: 48, height: 20 }}>
            <LegendMarker s={s} />
          </div>
          <div style={{ ...textStyle, fontSize: LEGEND_FONT, left: LEGEND_TEXT_X[s], top: LEGEND_Y, transform: "translateY(-50%)" }}>
            {name}
          </div>
        </React.Fragment>
      ))}
    </div>
  );
}
